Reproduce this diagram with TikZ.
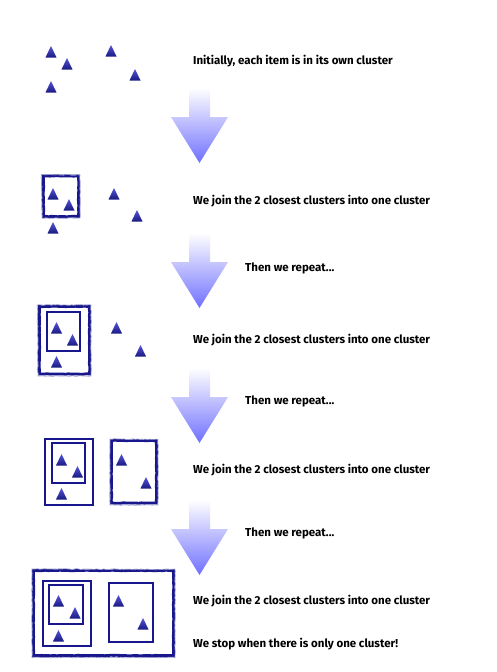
\documentclass[tikz,border=0pt]{standalone}
\usepackage{fontspec}
\setmainfont{Fira Sans}
\usetikzlibrary{decorations.pathmorphing}
\definecolor{navy}{RGB}{24,24,140}
\definecolor{trit}{RGB}{85,85,215}
\definecolor{trib}{RGB}{25,25,130}
\definecolor{arrowtip}{RGB}{112,112,255}
\tikzset{
  tri/.pic={\shade[top color=trit, bottom color=trib] (-5.5,5.5) -- (5.5,5.5) -- (0,-6) -- cycle;},
  bigarrow/.pic={\shade[top color=white, bottom color=arrowtip]
      (-10.5,0) -- (10.5,0) -- (10.5,29) -- (28.5,29) -- (0,75) -- (-28.5,29) -- (-10.5,29) -- cycle;},
  thinframe/.style={draw=navy, line width=1.4pt},
  faintframe/.style={draw=navy, line width=1.1pt},
  roughframe/.style={draw=navy, line width=2.8pt, decorate,
      decoration={random steps, segment length=3pt, amplitude=0.25pt}},
  roughedge/.style={draw=navy!45, line width=0.7pt, decorate,
      decoration={random steps, segment length=2pt, amplitude=0.4pt}},
  lbl/.style={anchor=west, inner sep=0pt, font=\fontsize{11.5}{13}\selectfont\bfseries, text=black},
}
\begin{document}
\begin{tikzpicture}[x=1pt,y=-1pt]
\pgfmathsetseed{7}
\useasboundingbox (0,0) rectangle (496,672);
\fill[white] (0,0) rectangle (496,672);

% ---- row 1
\foreach \p in {(51,52),(67,64),(111,51),(135,75),(51,87)} \pic at \p {tri};
\node[lbl] (t1) at (193,61) {Initially, each item is in its own cluster};
\pic at (199.5,88) {bigarrow};

% ---- row 2
\foreach \p in {(53,194),(69,205),(114,194),(137,216),(53,228)} \pic at \p {tri};
\draw[roughframe] (43.5,176) -- (78.5,176) -- (78.5,216.5) -- (43.5,216.5) -- cycle;
\draw[roughedge] (41.5,174.5) -- (80,175) -- (80,218) -- (42,218) -- cycle;
\node[lbl] (t2) at (193,201) {We join the 2 closest clusters into one cluster};
\pic at (199.5,233) {bigarrow};
\node[lbl] (r1) at (245,268) {Then we repeat...};

% ---- row 3
\foreach \p in {(56.5,328),(72.5,340),(116.5,328),(140.5,351),(56.5,362)} \pic at \p {tri};
\draw[thinframe] (47,312) rectangle (80,351);
\draw[roughframe] (39.5,306.5) -- (89.5,306.5) -- (89.5,374) -- (39.5,374) -- cycle;
\draw[roughedge] (37.5,305) -- (91,305) -- (91,376) -- (38,376) -- cycle;
\node[lbl] (t3) at (193,340) {We join the 2 closest clusters into one cluster};
\pic at (199.5,368) {bigarrow};
\node[lbl] (r2) at (245,401) {Then we repeat...};

% ---- row 4
\foreach \p in {(61.5,460),(77.5,472),(61.5,494),(121.5,460),(146,483)} \pic at \p {tri};
\draw[faintframe] (45,439) rectangle (93,505);
\draw[thinframe] (52,443) rectangle (85,483);
\draw[roughframe] (111.5,440.5) -- (156.5,440.5) -- (156.5,503) -- (111.5,503) -- cycle;
\draw[roughedge] (110,439) -- (158,439.5) -- (158,505) -- (110,505) -- cycle;
\node[lbl] (t4) at (193,470) {We join the 2 closest clusters into one cluster};
\pic at (199.5,500) {bigarrow};
\node[lbl] (r3) at (245,533) {Then we repeat...};

% ---- row 5
\foreach \p in {(58.5,601),(75,613),(58.5,636),(118.5,601),(143,624)} \pic at \p {tri};
\draw[thinframe] (49,585) rectangle (83,624);
\draw[thinframe] (43,581) rectangle (91,646);
\draw[thinframe] (109,583) rectangle (153,642);
\draw[roughframe] (33.5,570.5) -- (173.5,570.5) -- (173.5,655.5) -- (33.5,655.5) -- cycle;
\draw[roughedge] (32,569) -- (175,569.5) -- (175,657.5) -- (32,657.5) -- cycle;
\node[lbl] (t5) at (193,601) {We join the 2 closest clusters into one cluster};
\node[lbl] (t6) at (193,644) {We stop when there is only one cluster!};
\end{tikzpicture}
\end{document}
